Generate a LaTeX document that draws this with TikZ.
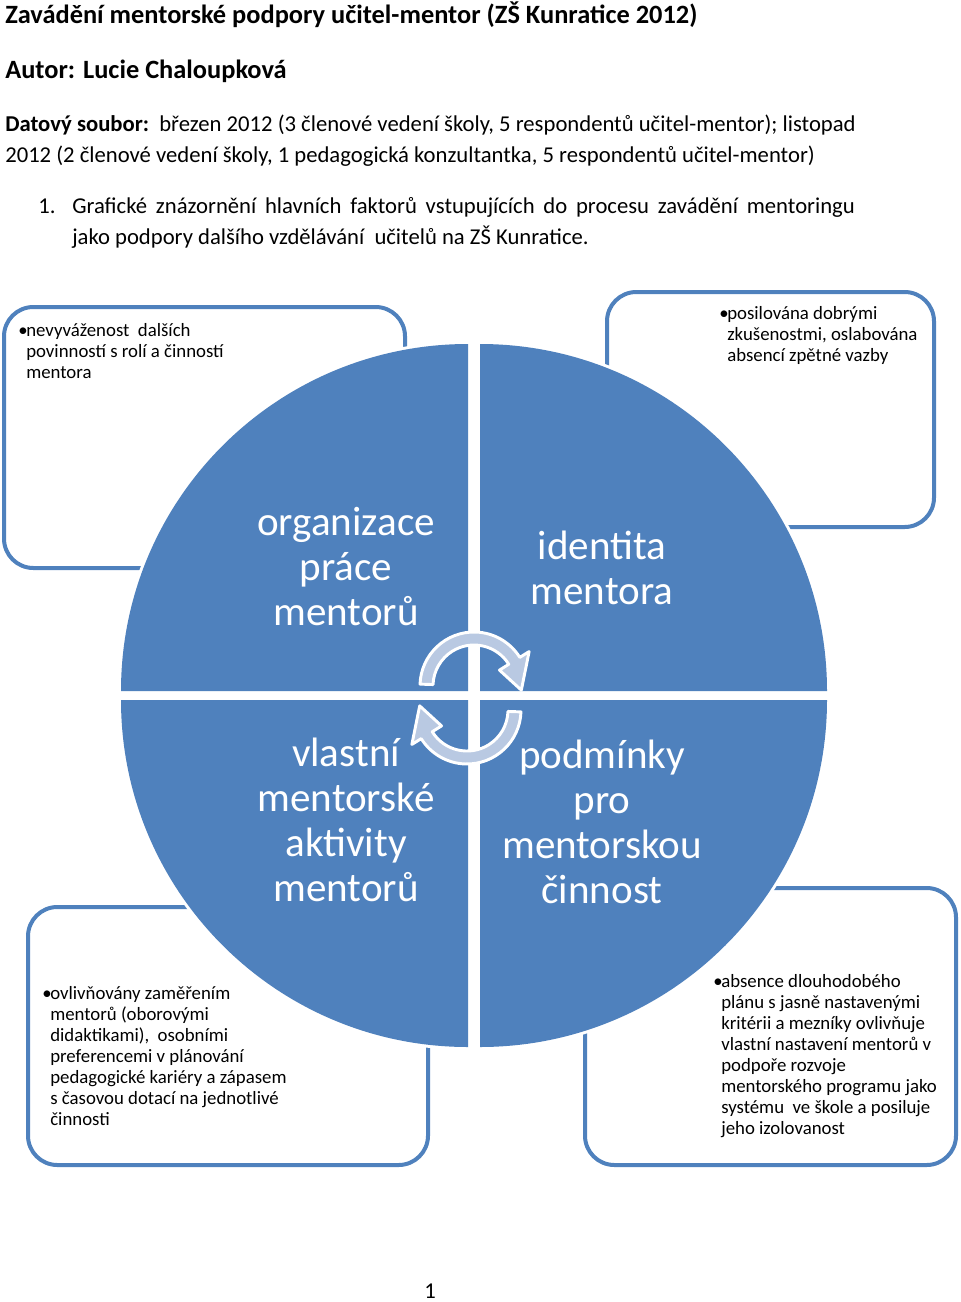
\documentclass[tikz,border=0pt]{standalone}
\usepackage{fontspec}
\setmainfont{Carlito}
\definecolor{pieblue}{HTML}{4F81BD}
\definecolor{arrowfill}{HTML}{B9C9E2}
\tikzset{
  x=0.75pt, y=0.75pt,
  quad/.style={fill=pieblue},
  halo/.style={fill=white, draw=white, line width=4.5pt},
  sidebox/.style={draw=pieblue, line width=3pt, rounded corners=22pt},
  bodytext/.style={anchor=base west, inner sep=0pt, font=\fontsize{17}{20}\selectfont},
  headtext/.style={anchor=base west, inner sep=0pt, font=\fontsize{19.8}{23}\selectfont\bfseries},
  boxtext/.style={anchor=base west, inner sep=0pt},
  pielabel/.style={text=white, align=center, inner sep=0pt, font=\fontsize{30.8}{33.75}\selectfont},
  cyc/.style={fill=arrowfill, draw=white, line width=2.2pt, line join=round}
}
\newcommand{\bulletpar}[2]{\parbox[t]{#1}{\fontsize{14.1}{15.75}\selectfont\hangindent=6pt\hangafter=1 \makebox[6pt][l]{•}#2}}
\newcommand{\cycpath}{(178:54) arc[start angle=178, end angle=32, radius=54] -- (32:65) -- (-5:47.5) -- (32:30) -- (32:41) arc[start angle=32, end angle=178, radius=41] -- cycle}
\begin{document}
\begin{tikzpicture}
\useasboundingbox (0,0) rectangle (960,-1302);
% heading texts
\node[headtext] (title) at (5,-24) {Zavádění mentorské podpory učitel-mentor (ZŠ Kunratice 2012)};
\node[headtext] (author) at (5,-79) {Autor: Lucie Chaloupková};
\node[bodytext] (data1) at (5,-131.5) {\textbf{Datový soubor:}\ \ březen 2012 (3 členové vedení školy, 5 respondentů učitel-mentor); listopad};
\node[bodytext] (data2) at (5,-162.5) {2012 (2 členové vedení školy, 1 pedagogická konzultantka, 5 respondentů učitel-mentor)};
\node[bodytext] (num) at (38,-213.5) {1.};
\node[bodytext] (item1) at (72,-213.5) {\makebox[587pt][s]{Grafické znázornění hlavních faktorů vstupujících do procesu zavádění mentoringu}};
\node[bodytext] (item2) at (72,-244.5) {jako podpory dalšího vzdělávání\ \ učitelů na ZŠ Kunratice.};
% side boxes
\draw[sidebox] (4,-307) rectangle (405,-568);
\draw[sidebox] (607,-292) rectangle (934,-527);
\draw[sidebox] (28,-907) rectangle (428,-1165);
\draw[sidebox] (585,-888) rectangle (956,-1165);
% pie halo
\path[halo] (468,-691) -- (121,-691) arc[start angle=180, end angle=90, radius=347] -- cycle;
\path[halo] (480,-691) -- (480,-344) arc[start angle=90, end angle=0, radius=347] -- cycle;
\path[halo] (468,-700) -- (468,-1047) arc[start angle=270, end angle=180, radius=347] -- cycle;
\path[halo] (480,-700) -- (827,-700) arc[start angle=0, end angle=-90, radius=347] -- cycle;
% pie quadrants
\fill[quad] (468,-691) -- (121,-691) arc[start angle=180, end angle=90, radius=347] -- cycle;
\fill[quad] (480,-691) -- (480,-344) arc[start angle=90, end angle=0, radius=347] -- cycle;
\fill[quad] (468,-700) -- (468,-1047) arc[start angle=270, end angle=180, radius=347] -- cycle;
\fill[quad] (480,-700) -- (827,-700) arc[start angle=0, end angle=-90, radius=347] -- cycle;
% cycle arrows
\begin{scope}[shift={(474,-686)}]
  \draw[cyc] \cycpath;
\end{scope}
\begin{scope}[shift={(467,-710)}, rotate=180]
  \draw[cyc] \cycpath;
\end{scope}
% pie labels
\node[pielabel] (org) at (346,-567) {organizace\\práce\\mentorů};
\node[pielabel] (ident) at (602,-568) {identita\\mentora};
\node[pielabel] (vlast) at (346,-820) {vlastní\\mentorské\\aktivity\\mentorů};
\node[pielabel] (podm) at (602,-822) {podmínky\\pro\\mentorskou\\činnost};
% box texts
\node[boxtext] (t1) at (18,-336) {\bulletpar{300pt}{nevyváženost\ \ dalších\\povinností s rolí a činností\\mentora}};
\node[boxtext] (t2) at (719,-319) {\bulletpar{300pt}{posilována dobrými\\zkušenostmi, oslabována\\absencí zpětné vazby}};
\node[boxtext] (t3) at (42,-999) {\bulletpar{300pt}{ovlivňovány zaměřením\\mentorů (oborovými\\didaktikami),\ \ osobními\\preferencemi v plánování\\pedagogické kariéry a zápasem\\s časovou dotací na jednotlivé\\činnosti}};
\node[boxtext] (t4) at (713,-987) {\bulletpar{300pt}{absence dlouhodobého\\plánu s jasně nastavenými\\kritérii a mezníky ovlivňuje\\vlastní nastavení mentorů v\\podpoře rozvoje\\mentorského programu jako\\systému\ \ ve škole a posiluje\\jeho izolovanost}};
% page number
\node[bodytext] (page) at (424,-1298) {1};
\end{tikzpicture}
\end{document}
